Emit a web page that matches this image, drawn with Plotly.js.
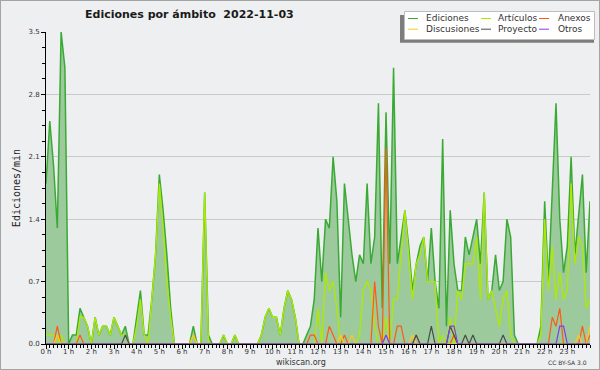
<!DOCTYPE html>
<html><head><meta charset="utf-8">
<script src="https://cdn.plot.ly/plotly-3.0.1.min.js"></script>
<style>
html,body{margin:0;padding:0;background:#fff;}
#chart{width:598px;height:368px;border:1px solid #a4a4a4;}
</style></head><body><div id="chart"></div>
<script>
// ---- data: edits per minute, one value per 10-minute slot, 00:00 .. 24:00 ----
const slotMinutes = 10;
const ediciones = [
1.8,2.5,2.0,1.3,3.5,3.1, 0,0.1,0.1,0.4,0.3,0.2, 0,0.3,0.1,0.2,0.2,0.1, 0.3,0.2,0.1,0.2,0,0,
0.3,0.6,0.1,0.1,0.5,1.0, 1.9,1.5,1.0,0.4,0,0, 0,0,0,0.2,0,0, 1.7,0.1,0,0,0,0.1,
0,0,0.1,0,0,0, 0,0,0,0.1,0.3,0.4, 0.3,0.3,0.1,0.4,0.6,0.5, 0.3,0,0,0.1,0.2,0.5,
1.3,0.7,1.4,1.3,2.1,1.6, 0.3,1.8,1.4,1.0,0.7,1.0, 0.9,1.8,0.9,1.2,2.7,0.4, 2.6,0.9,3.1,0.9,1.2,1.5,
1.1,0.6,0.9,1.1,1.2,0.7, 1.3,0.7,0.4,2.3,0.2,1.5, 0.9,0.6,0.6,1.2,1.0,1.2, 1.4,0.9,1.7,0.5,0.6,1.0,
0.6,0.7,1.4,1.2,0.1,0, 0,0,0,0,0,0.2, 1.6,0.7,1.7,2.7,1.4,0.8, 1.1,2.1,1.0,1.5,1.9,0.8,
1.6];
const articulos = [
0.1,0.1,0.1,0,0.1,0, 0,0,0,0.3,0.3,0.2, 0,0.3,0.1,0.2,0.2,0.1, 0.3,0.2,0.1,0.1,0,0,
0.2,0.5,0.1,0,0.5,1.0, 1.8,1.3,0.7,0.3,0,0, 0,0,0,0.1,0,0, 1.7,0,0,0,0,0.1,
0,0,0.1,0,0,0, 0,0,0,0.1,0.3,0.4, 0.3,0.3,0.1,0.4,0.6,0.5, 0.3,0,0,0,0,0,
0.4,0,0.8,0.6,0.7,0.4, 0,0,0,0,0,0.1, 0.6,0.7,0.6,0.2,0,0, 0.3,0,0.5,0.5,1.0,1.5,
1.0,0.5,0.9,1.0,1.2,0.7, 0.7,0.7,0,0.1,0,0.3, 0,0.6,0.5,0.9,0.9,0.9, 1.2,0.5,1.7,0.5,0.6,0.4,
0.2,0.5,0.6,0.1,0,0, 0,0,0,0,0,0.1, 1.4,0.6,1.1,0.5,0.8,0.5, 0.6,1.8,0.9,1.2,1.1,0.4,
0.5];
const anexos = [
0,0,0,0.2,0,0, 0,0,0,0.1,0,0, 0,0,0,0,0,0, 0,0,0,0,0,0,
0,0,0,0,0,0, 0,0,0,0,0,0, 0,0,0,0,0,0, 0,0,0,0,0,0,
0,0,0,0,0,0, 0,0,0,0,0,0, 0,0,0,0,0,0, 0,0,0,0,0.1,0.1,
0,0,0,0.2,0.1,0, 0,0.1,0,0,0,0, 0,0,0,0.7,0.2,0, 2.2,0,0,0.2,0.2,0,
0,0,0.1,0,0,0, 0,0,0,0,0,0, 0.1,0,0,0,0,0, 0,0,0,0,0,0,
0,0,0,0,0,0, 0,0,0,0,0,0, 0,0,0.3,0.2,0.4,0, 0,0,0,0,0.2,0,
0.1];
const discusiones = [
0,0,0,0.1,0,0, 0,0,0,0,0,0, 0,0,0,0,0,0, 0,0,0,0,0,0,
0,0,0,0,0,0, 0,0,0,0,0,0, 0,0,0,0.1,0,0, 0,0,0,0,0,0,
0,0,0,0,0,0, 0,0,0,0,0,0, 0,0,0,0,0,0, 0,0,0,0,0,0,
0,0,0,0,0,0, 0.1,0,0,0.1,0,0, 0,0,0,0,0,0, 0,0,0,0,0,0,
0,0.1,0,0,0,0, 0,0,0,0,0,0, 0,0,0,0,0,0, 0,0,0,0,0,0,
0,0,0,0,0,0, 0,0,0,0,0,0, 0,0,0,0,0,0, 0,0,0,0.1,0,0,
0.2];
const proyecto = [
0,0,0,0,0,0, 0,0,0,0,0,0, 0,0,0,0,0,0, 0,0,0,0.1,0,0,
0,0,0,0,0,0, 0,0,0,0,0,0, 0,0,0,0,0,0, 0,0,0,0,0,0,
0,0,0,0,0,0, 0,0,0,0,0,0, 0,0,0,0,0,0, 0,0,0,0,0,0,
0,0,0,0,0,0, 0,0,0,0,0,0, 0,0,0,0,0,0, 0,0,0,0,0,0,
0,0,0.1,0,0,0, 0.2,0,0,0,0,0.2, 0.1,0,0,0.1,0,0.1, 0,0,0,0,0,0,
0,0.1,0,0,0,0, 0,0,0,0,0,0, 0,0,0,0,0,0, 0,0,0,0,0,0,
0];
const otros = [
0,0,0,0,0,0, 0,0,0,0,0,0, 0,0,0,0,0,0, 0,0,0,0,0,0,
0,0,0,0,0,0, 0,0,0,0,0,0, 0,0,0,0,0,0, 0,0,0,0,0,0,
0,0,0,0,0,0, 0,0,0,0,0,0, 0,0,0,0,0,0, 0,0,0,0,0,0,
0,0,0,0,0,0, 0,0,0,0,0,0, 0,0,0,0,0,0, 0.1,0,0,0,0,0,
0,0,0,0,0,0, 0,0,0,0,0,0.2, 0.2,0,0,0,0,0, 0,0,0,0,0,0,
0,0,0,0,0,0, 0,0,0,0,0,0, 0,0,0,0,0.2,0.2, 0,0,0,0,0,0,
0];
const seriesNames = ['Ediciones','Artículos','Anexos','Discusiones','Proyecto','Otros'];
const hourTicks = [0,1,2,3,4,5,6,7,8,9,10,11,12,13,14,15,16,17,18,19,20,21,22,23];
const hourLabels = ['0 h','1 h','2 h','3 h','4 h','5 h','6 h','7 h','8 h','9 h','10 h','11 h',
  '12 h','13 h','14 h','15 h','16 h','17 h','18 h','19 h','20 h','21 h','22 h','23 h'];
const yTicks = [0,0.7,1.4,2.1,2.8,3.5];
const yLabels = ['0.0','0.7','1.4','2.1','2.8','3.5'];

// ---- styling ----
const colors = ['#3aaa35','#aeea00','#ff5a14','#ffc81e','#4a4a4a','#7f3cf0'];
const widths = [1.5,1.3,1.2,1.2,1.2,1.2];
const series = [ediciones, articulos, anexos, discusiones, proyecto, otros];
const hours = ediciones.map((_, i) => i * slotMinutes / 60);

const traces = series.map((vals, k) => {
  const t = {
    type: 'scatter', mode: 'lines', name: seriesNames[k],
    x: hours, y: vals,
    line: {color: colors[k], width: widths[k]},
    hoverinfo: 'skip'
  };
  if (k === 0) { t.fill = 'tozeroy'; t.fillcolor = '#9dca9d'; }
  return t;
});

// pixel (in 600x370 frame) -> paper coords
const L = 46, R = 590, T = 32, B = 344;
const px = X => (X - L) / (R - L);
const py = Y => (B - Y) / (B - T);

const FONT = 'DejaVu Sans, Verdana, sans-serif';
const shapes = [
  {type:'rect', xref:'paper', yref:'paper', x0:px(400), x1:px(594), y0:py(42.7), y1:py(15),
   fillcolor:'#7d7d7d', line:{width:0}, layer:'above'},
  {type:'rect', xref:'paper', yref:'paper', x0:px(404.5), x1:px(594.5), y0:py(39.5), y1:py(11.5),
   fillcolor:'#ffffff', line:{color:'#bdbdbd', width:1}, layer:'above'}
];
const annotations = [];
const colLine = [408, 481, 539], colText = [424, 496, 556], rowY = [18.5, 29.2];
seriesNames.forEach((name, k) => {
  const c = k % 3, r = Math.floor(k / 3);
  shapes.push({type:'line', xref:'paper', yref:'paper', x0:px(colLine[c]), x1:px(colLine[c] + 10),
    y0:py(rowY[r]), y1:py(rowY[r]), line:{color:colors[k], width:1}, layer:'above'});
  annotations.push({xref:'paper', yref:'paper', x:px(colText[c]), y:py(rowY[r]), text:name,
    showarrow:false, xanchor:'left', yanchor:'middle', font:{family:FONT, size:9, color:'#333'}});
});
annotations.push({xref:'paper', yref:'paper', x:px(301), y:py(362), text:'wikiscan.org', showarrow:false,
  xanchor:'center', yanchor:'middle', font:{family:FONT, size:8, color:'#333'}});
annotations.push({xref:'paper', yref:'paper', x:px(589), y:py(362.5), text:'CC BY-SA 3.0', showarrow:false,
  xanchor:'right', yanchor:'middle', font:{family:FONT, size:6, color:'#333'}});

const layout = {
  width: 598, height: 368,
  margin: {l: 45, r: 9, t: 31, b: 25, pad: 0},
  paper_bgcolor: '#eeeff0', plot_bgcolor: '#eeeff0',
  showlegend: false,
  title: {text: '<b>Ediciones por ámbito\u00a0\u00a02022-11-03</b>', xref:'container', yref:'container',
    x: 84/598, xanchor:'left', y: 1 - 13/368, yanchor:'middle',
    font: {family: FONT, size: 11, color: '#1a1a1a'}},
  xaxis: {
    range: [0, 24], tickmode: 'array', tickvals: hourTicks, ticktext: hourLabels,
    showgrid: false, zeroline: false, showline: true, linecolor: '#000', linewidth: 1,
    ticks: 'outside', ticklen: 4, tickcolor: '#000', tickwidth: 1,
    ticklabelstandoff: -3,
    tickfont: {family: FONT, size: 7, color: '#333'},
    minor: {dtick: 1/6, tick0: 0, ticks: 'outside', ticklen: 3, tickcolor: '#000', showgrid: false},
    fixedrange: true
  },
  yaxis: {
    range: [0, 3.5], tickmode: 'array', tickvals: yTicks, ticktext: yLabels,
    showgrid: true, gridcolor: '#cacaca', gridwidth: 1, zeroline: false,
    showline: true, linecolor: '#000', linewidth: 1,
    ticks: 'outside', ticklen: 4, tickcolor: '#000',
    tickfont: {family: FONT, size: 7, color: '#333'},
    minor: {dtick: 0.175, tick0: 0, ticks: 'outside', ticklen: 3, tickcolor: '#000', showgrid: false},
    title: {text: 'Ediciones/min', standoff: 5, font: {family: 'DejaVu Sans Mono, monospace', size: 10, color: '#222'}},
    fixedrange: true
  },
  shapes: shapes,
  annotations: annotations
};

Plotly.newPlot('chart', traces, layout, {staticPlot: true, displayModeBar: false});
</script></body></html>
